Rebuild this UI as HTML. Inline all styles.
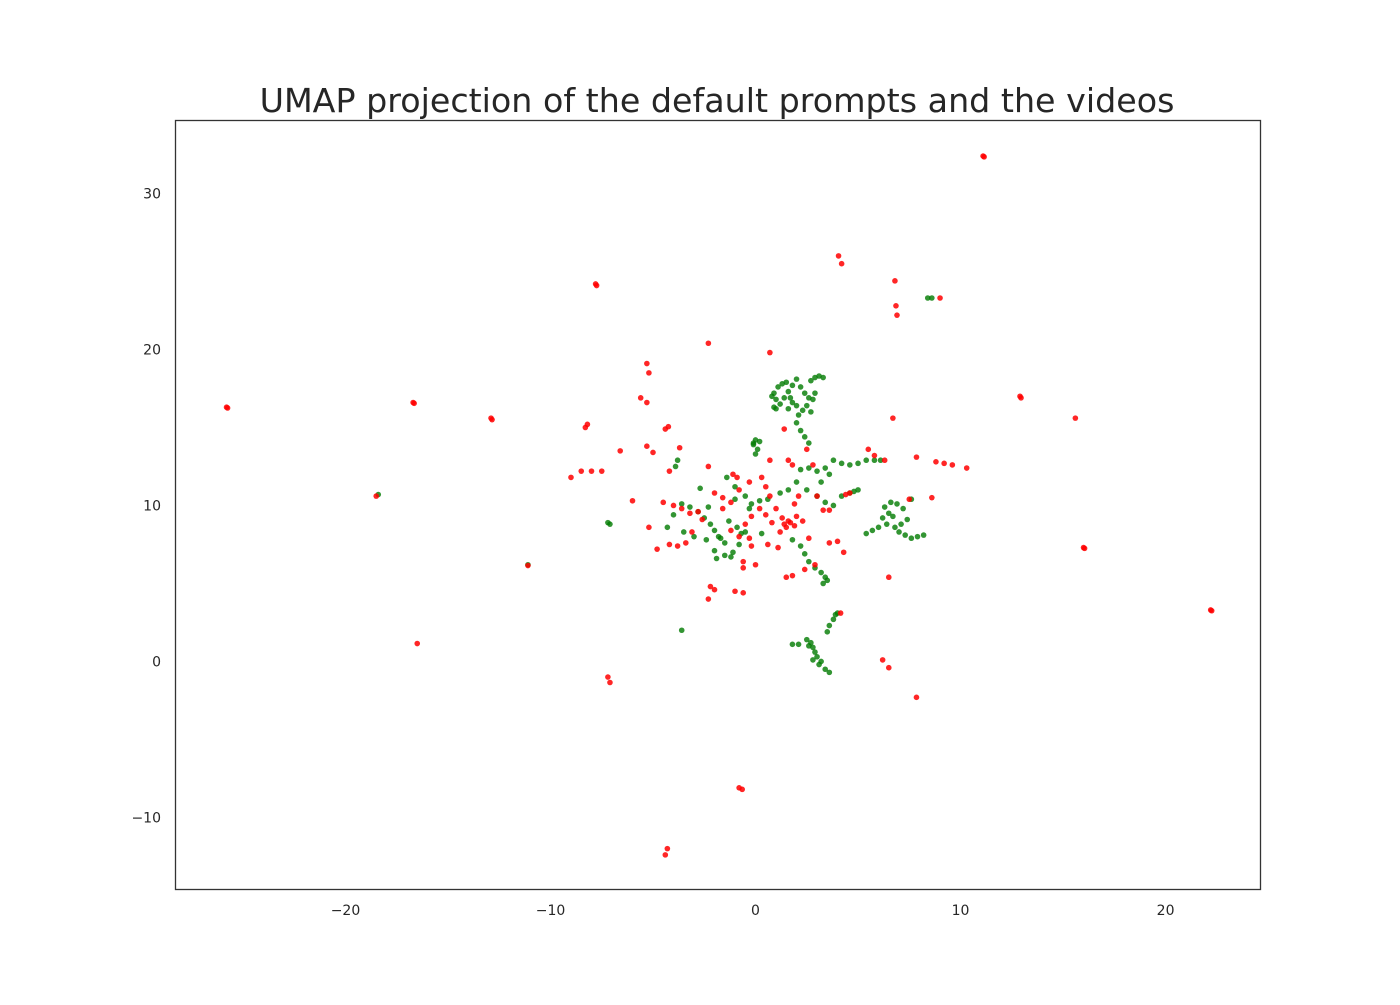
<!DOCTYPE html>
<html><head><meta charset="utf-8"><style>
body{margin:0;background:#fff;width:1400px;height:1000px;overflow:hidden}
svg text{font-family:"DejaVu Sans","Liberation Sans",sans-serif;fill:#262626}
</style></head><body>
<svg id="chart" width="1400" height="1000">
<text x="717" y="112" text-anchor="middle" font-size="33.3">UMAP projection of the default prompts and the videos</text>
<g id="marks"></g>
<g id="ticks"></g>
<rect x="175.5" y="120.5" width="1085" height="769" fill="none" stroke="#333" stroke-width="1.3"/>
</svg>
<script>
const xTicks=[-20,-10,0,10,20];
const yTicks=[30,20,10,0,-10];
const greenPts=[[0.9,17.2],[1.1,17.6],[1.3,17.8],[1.5,17.9],[1.0,16.8],[1.2,16.5],[0.9,16.3],[1.4,16.9],[1.6,17.3],[1.8,17.7],[2.0,18.1],[2.2,17.6],[2.4,17.2],[2.6,16.9],[2.8,16.8],[2.5,16.4],[2.3,16.1],[2.1,15.8],[2.0,15.3],[2.2,14.8],[2.4,14.4],[2.6,14.0],[1.8,16.6],[1.6,16.2],[2.9,18.2],[3.1,18.3],[3.3,18.2],[2.7,18.0],[0.8,17.0],[1.0,16.2],[1.7,16.9],[2.0,16.4],[2.7,16.0],[2.9,17.2],
[0.0,14.2],[-0.1,13.9],[0.1,13.6],[0.0,13.3],[-0.1,14.0],[0.2,14.1],
[3.8,12.9],[4.2,12.7],[4.6,12.6],[5.0,12.7],[5.4,12.9],[5.8,12.9],[6.1,12.9],[3.4,12.4],[3.0,12.2],[2.6,12.4],[2.2,12.3],
[2.0,11.5],[2.5,11.0],[3.0,10.6],[3.4,10.2],[3.8,10.0],[4.2,10.6],[4.6,10.8],[5.0,11.0],[4.8,10.9],[3.2,11.5],[3.6,12.0],[1.6,11.0],[1.2,10.8],[0.6,10.4],[0.2,10.3],[-0.2,10.1],[-0.5,10.6],[-1.0,11.2],
[6.3,9.9],[6.6,10.2],[6.9,10.1],[6.5,9.5],[6.2,9.2],[6.4,8.8],[6.8,8.6],[7.0,8.3],[7.3,8.1],[7.6,7.9],[7.9,8.0],[8.2,8.1],[7.1,8.8],[6.0,8.6],[5.7,8.4],[5.4,8.2],[7.4,9.1],[7.6,10.4],[7.2,9.8],[6.7,9.3],
[-2.2,8.8],[-2.0,8.4],[-1.8,8.0],[-1.5,7.6],[-1.7,7.9],[-2.5,9.2],[-2.8,9.6],[-3.2,9.9],[-3.6,10.1],[-1.3,9.0],[-0.9,8.6],[-0.7,8.2],[-0.8,7.5],[-1.1,7.0],[-1.5,6.8],[-2.0,7.1],[-2.4,7.8],[-3.0,8.0],[-3.5,8.3],[-3.8,12.9],[-3.9,12.5],[-1.4,11.8],[-2.7,11.1],[-1.0,10.4],[-0.3,9.8],[-0.5,8.3],[0.3,8.2],[-4.3,8.6],[-4.0,9.4],[-1.9,6.6],[-1.2,6.7],[-2.3,9.9],
[1.8,7.8],[2.2,7.4],[2.4,6.9],[2.6,6.4],[2.9,6.0],[3.2,5.7],[3.4,5.4],[3.3,5.0],[3.5,5.2],
[3.9,3.0],[3.8,2.7],[3.6,2.3],[3.5,1.9],[4.0,3.1],
[2.1,1.1],[2.5,1.4],[2.7,1.2],[2.8,0.9],[2.9,0.6],[3.0,0.3],[3.2,0.0],[3.1,-0.2],[2.8,0.1],[3.4,-0.5],[3.6,-0.7],[2.6,1.0],[1.8,1.1],
[-7.2,8.9],[-7.1,8.8],[-18.4,10.7],[-11.1,6.2],[8.4,23.3],[8.6,23.3],[-3.6,2.0]];
const redPts=[[11.1,32.4],[11.15,32.35],[4.05,26.0],[4.2,25.5],[6.8,24.4],[6.85,22.8],[6.9,22.2],[9.0,23.3],[-7.8,24.2],[-7.75,24.1],[-2.3,20.4],[0.7,19.8],[-5.3,19.1],[-5.2,18.5],[-5.6,16.9],[-5.3,16.6],[-25.8,16.3],[-25.75,16.25],[-16.7,16.6],[-16.65,16.55],[-12.9,15.6],[-12.85,15.5],[-8.2,15.2],[-8.3,15.0],[-4.4,14.9],[-4.25,15.05],[12.9,17.0],[12.95,16.9],[15.6,15.6],[6.7,15.6],[-18.5,10.6],[-11.1,6.15],[-16.5,1.15],[-7.2,-1.0],[-7.1,-1.35],[16.0,7.3],[16.05,7.25],[22.2,3.3],[22.25,3.25],[10.3,12.4],[6.2,0.1],[6.5,-0.4],[7.85,-2.3],[-0.8,-8.1],[-0.65,-8.2],[-4.3,-12.0],[-4.4,-12.4],
[-4.5,10.2],[-4.0,10.0],[-3.6,9.8],[-3.2,9.5],[-2.8,9.6],[-3.1,8.3],[-3.4,7.6],[-3.8,7.4],[-4.2,7.5],[-2.0,10.8],[-1.6,10.5],[-1.2,10.2],[-0.8,11.0],[-1.1,12.0],[-0.9,11.8],[-2.3,12.5],[-0.3,11.5],[0.3,11.8],[0.5,11.2],[0.7,10.6],[1.0,9.8],[1.3,9.2],[1.5,8.6],[1.7,8.9],[2.0,9.3],[1.2,8.3],[0.8,8.9],[0.5,9.4],[0.2,9.8],[-0.2,9.3],[-0.5,8.8],[-0.8,8.0],[-1.2,8.4],[-1.6,9.8],[1.8,12.6],[1.6,12.9],[2.1,10.6],[1.9,10.1],[2.3,9.0],[2.6,7.9],[2.9,6.2],[2.4,5.9],[1.8,5.5],[1.5,5.4],[3.3,9.7],[3.6,9.7],[3.0,10.6],[4.4,10.7],[4.6,10.8],[3.6,7.6],[4.0,7.7],[1.1,7.3],[0.6,7.5],[-0.2,7.4],[-0.6,6.4],[-0.6,6.0],[0.0,6.2],[-2.3,4.0],[-2.0,4.6],[-1.0,4.5],[-0.6,4.4],[-2.2,4.8],[5.5,13.6],[5.8,13.2],[6.3,12.9],[8.8,12.8],[9.2,12.7],[9.6,12.6],[-6.0,10.3],[-5.2,8.6],[-4.8,7.2],[-5.3,13.8],[-6.6,13.5],[-3.7,13.7],[-8.5,12.2],[-9.0,11.8],[-8.0,12.2],[-7.5,12.2],[4.15,3.1],[4.3,7.0],[6.5,5.4],[1.4,14.9],[2.5,13.6],[0.7,12.9],[-4.2,12.2],[-5.0,13.4],[2.8,12.6],[7.5,10.4],[8.6,10.5],[7.85,13.1],[1.6,9.0],[1.9,8.7],[1.4,8.8],[-0.3,7.9],[-2.6,9.1]];
const NS='http://www.w3.org/2000/svg';
const X0=175.5,X1=1260.5,Y0=120.5,Y1=889.5;
const xMin=-28.29,xMax=24.63,yMin=-14.62,yMax=34.68;
function sx(v){return X0+(v-xMin)/(xMax-xMin)*(X1-X0);}
function sy(v){return Y1-(v-yMin)/(yMax-yMin)*(Y1-Y0);}
const marks=document.getElementById('marks');
const ticks=document.getElementById('ticks');
function drawPts(pts,color,op,name){
  pts.forEach(p=>{
    const c=document.createElementNS(NS,'circle');
    c.setAttribute('cx',sx(p[0]));c.setAttribute('cy',sy(p[1]));
    c.setAttribute('r',2.8);c.setAttribute('fill',color);c.setAttribute('fill-opacity',op);
    
    
    marks.appendChild(c);
  });
}
drawPts(greenPts,'#007a00',0.8,'video-point');
drawPts(redPts,'#ff0000',0.85,'prompt-point');
const fmt=v=>v<0?'\u2212'+Math.abs(v):String(v);
xTicks.forEach(v=>{
  const t=document.createElementNS(NS,'text');
  t.setAttribute('x',sx(v));t.setAttribute('y',915);t.setAttribute('text-anchor','middle');t.setAttribute('font-size','14');
  t.textContent=fmt(v);
  
  
  ticks.appendChild(t);
});
yTicks.forEach(v=>{
  const t=document.createElementNS(NS,'text');
  t.setAttribute('x',161);t.setAttribute('y',sy(v)+5);t.setAttribute('text-anchor','end');t.setAttribute('font-size','14');
  t.textContent=fmt(v);
  
  
  ticks.appendChild(t);
});
</script>
</body></html>
